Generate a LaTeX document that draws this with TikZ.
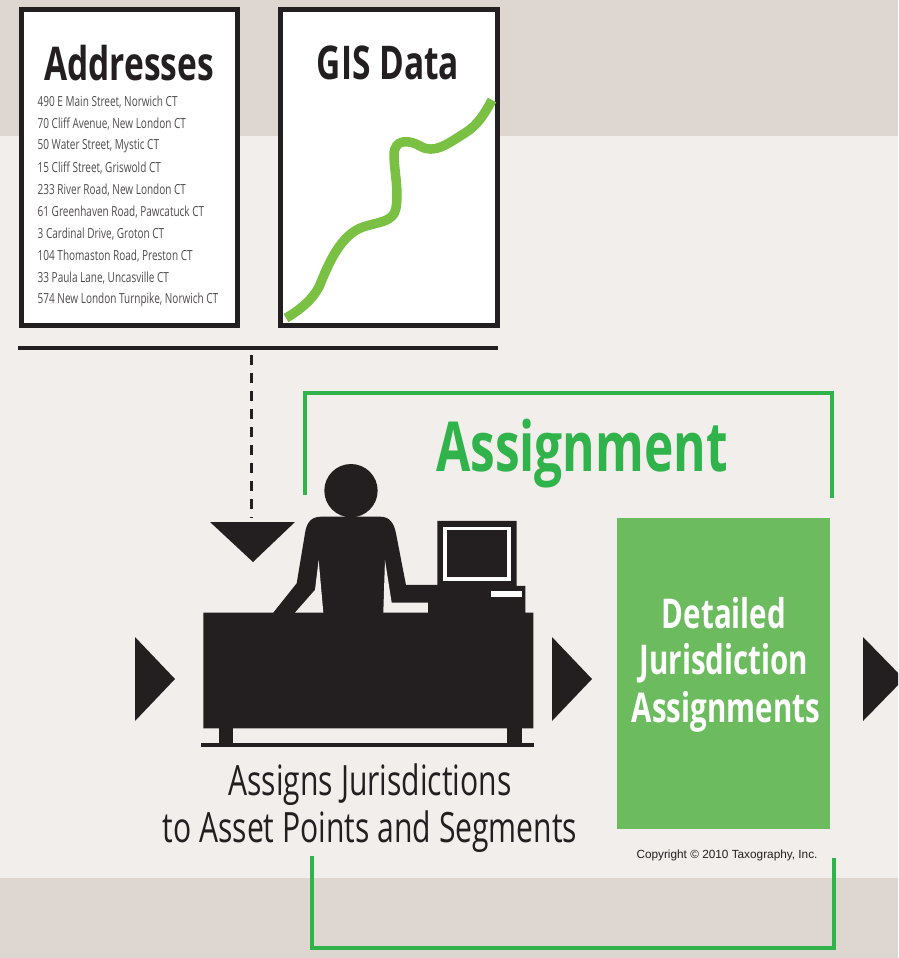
\documentclass[tikz,border=0pt]{standalone}
\usepackage{fontspec}
\setmainfont{Open Sans}
\newfontfamily\condb[FakeStretch=0.72]{Open Sans Bold}
\newfontfamily\cond[FakeStretch=0.72]{Open Sans}
\newfontfamily\plainsans{Liberation Sans}
\definecolor{band}{HTML}{DDD6D1}
\definecolor{paper}{HTML}{F1EEEB}
\definecolor{ink}{HTML}{231F20}
\definecolor{brgreen}{HTML}{2FB34A}
\definecolor{boxgreen}{HTML}{6CBB5F}
\definecolor{curvegreen}{HTML}{7AC143}
\tikzset{
  x=1pt,y=-1pt,
  docbox/.style={draw=ink,fill=white,line width=5pt},
  doctitle/.style={font=\condb\fontsize{46.5}{46.5}\selectfont,text=ink,inner sep=0pt},
  addr/.style={font=\cond\fontsize{13.9}{13.9}\selectfont,text=ink!80,anchor=west,inner sep=0pt},
  bracket/.style={draw=brgreen,line width=4.5pt,line join=miter},
  captiontext/.style={font=\cond\fontsize{41.8}{41.8}\selectfont,text=ink,inner sep=0pt},
  boxtext/.style={font=\condb\fontsize{41}{41}\selectfont,text=white,inner sep=0pt},
}
\begin{document}
\begin{tikzpicture}
\useasboundingbox (0,0) rectangle (898,958);
\clip (0,0) rectangle (898,958);
\fill[paper] (0,0) rectangle (898,958);
\fill[band] (0,0) rectangle (898,136);
\fill[band] (0,878) rectangle (898,958);

% document boxes
\draw[docbox] (21,10) rectangle (237,325);
\draw[docbox] (280,10) rectangle (497,325);
\node[doctitle] (addrtitle) at (129,63) {Addresses};
\node[doctitle] (gistitle) at (388,63) {GIS Data};
\node[addr] (a1) at (37.5,102) {490 E Main Street, Norwich CT};
\node[addr] (a2) at (37.5,124) {70 Cliff Avenue, New London CT};
\node[addr] (a3) at (37.5,146) {50 Water Street, Mystic CT};
\node[addr] (a4) at (37.5,168) {15 Cliff Street, Griswold CT};
\node[addr] (a5) at (37.5,190) {233 River Road, New London CT};
\node[addr] (a6) at (37.5,212) {61 Greenhaven Road, Pawcatuck CT};
\node[addr] (a7) at (37.5,234) {3 Cardinal Drive, Groton CT};
\node[addr] (a8) at (37.5,256) {104 Thomaston Road, Preston CT};
\node[addr] (a9) at (37.5,278) {33 Paula Lane, Uncasville CT};
\node[addr] (a10) at (37.5,300) {574 New London Turnpike, Norwich CT};
\draw[curvegreen,line width=9.5pt,line cap=butt,line join=round]
  (286,318) .. controls (300,310) and (312,300) .. (319,287)
  .. controls (328,265) and (340,235) .. (363,227)
  .. controls (378,222) and (394,222) .. (396,208)
  .. controls (399,190) and (394,170) .. (394,155)
  .. controls (394,138) and (410,140) .. (420,146)
  .. controls (435,155) and (450,142) .. (465,133)
  .. controls (478,125) and (485,113) .. (492,100);

% rule and dashed feed
\coordinate (ruleL) at (18,348);
\coordinate (ruleR) at (498,348);
\coordinate (ruleM) at (251,348);
\coordinate (feedEnd) at (251,518);
\draw[ink,line width=4pt] (ruleL) -- (ruleR);
\draw[ink,line width=3pt,dash pattern=on 10pt off 8pt] (ruleM) ++(0,7) -- (feedEnd);
\fill[ink] (210,522) -- (295,522) -- (253,562) -- cycle;

% brackets
\coordinate (t1) at (305,495); \coordinate (t2) at (305,393);
\coordinate (t3) at (832,393); \coordinate (t4) at (832,498);
\draw[bracket] (t1) -- (t2) -- (t3) -- (t4);
\coordinate (b1) at (312,856); \coordinate (b2) at (312,948);
\coordinate (b3) at (834,948); \coordinate (b4) at (834,858);
\draw[bracket] (b1) -- (b2) -- (b3) -- (b4);
\node[font=\condb\fontsize{69}{69}\selectfont,text=brgreen,inner sep=0pt] (assign) at (582,454) {Assignment};

% clerk at desk (coordinates from a 3x view)
\begin{scope}[shift={(190,450)},x=0.3333pt,y=-0.3333pt]
  \fill[ink] (483,122) circle[radius=80];
  \fill[ink]
    (40,488) -- (250,488) -- (320,400) -- (345,250)
    .. controls (350,215) and (365,200) .. (395,200)
    -- (570,200) .. controls (600,200) and (612,220) .. (618,250)
    -- (648,405) -- (742,405) -- (742,213) -- (980,213) -- (980,408)
    -- (1006,408) -- (1006,488) -- (1030,488) -- (1030,835)
    -- (40,835) -- cycle;
  \fill[paper] (386,330) -- (375,420) -- (315,488) -- (400,488) -- cycle;
  \fill[paper] (585,330) -- (605,458) -- (714,458) -- (714,488) -- (580,488) -- cycle;
  \fill[white!90!paper] (760,230) rectangle (962,392);
  \fill[ink] (771,240) rectangle (950,382);
  \fill[white!90!paper] (903,422) rectangle (995,442);
  \fill[ink] (88,830) rectangle (130,885);
  \fill[ink] (952,830) rectangle (995,885);
  \fill[ink] (33,878) rectangle (1032,892);
\end{scope}

% flow triangles
\fill[ink] (135,637) -- (175,679) -- (135,721) -- cycle;
\fill[ink] (552,637) -- (592,679) -- (552,721) -- cycle;
\fill[ink] (863,637) -- (904,679) -- (863,721) -- cycle;

% output box
\node[fill=boxgreen,minimum width=213pt,minimum height=311pt,inner sep=0pt,anchor=north west] (output) at (617,518) {};
\node[boxtext] (d1) at (724,613) {Detailed};
\node[boxtext] (d2) at (724,663) {Jurisdiction};
\node[boxtext] (d3) at (726,712) {Assignments};

\node[captiontext] (c1) at (370,785) {Assigns Jurisdictions};
\node[captiontext] (c2) at (370,832) {to Asset Points and Segments};
\node[font=\plainsans\fontsize{11.8}{11.8}\selectfont,text=ink,inner sep=0pt] (copy) at (727,855) {Copyright © 2010 Taxography, Inc.};
\end{tikzpicture}
\end{document}
